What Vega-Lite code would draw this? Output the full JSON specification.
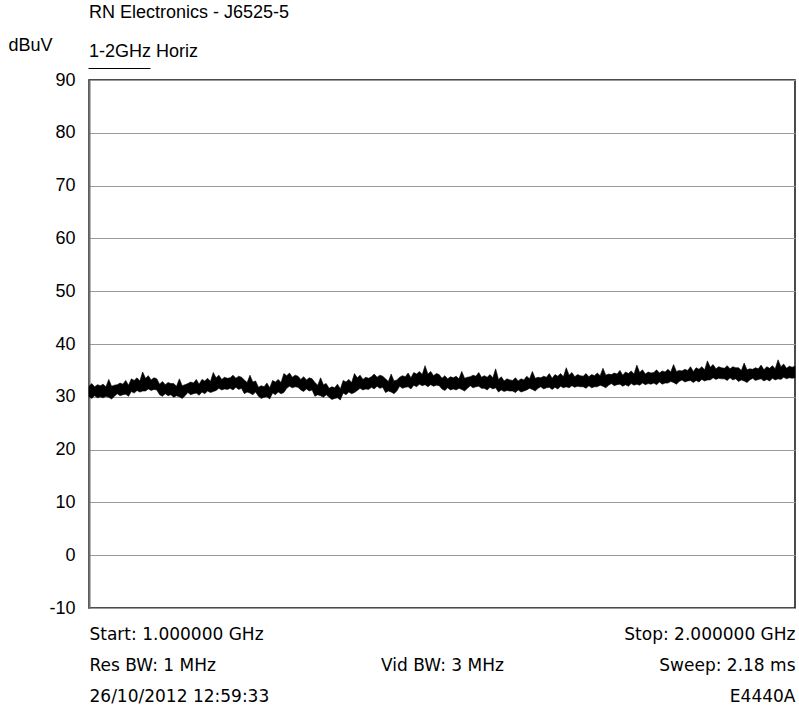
{
  "$schema": "https://vega.github.io/schema/vega-lite/v6.json",
  "width": 706,
  "height": 528,
  "autosize": "none",
  "padding": {"left": 89, "top": 80, "right": 4, "bottom": 105},
  "background": "white",
  "config": {
    "font": "Liberation Sans",
    "view": {"stroke": "#111111", "strokeWidth": 1.5}
  },
  "title": {
    "text": "RN Electronics - J6525-5",
    "subtitle": "1-2GHz Horiz",
    "anchor": "start",
    "frame": "group",
    "fontSize": 18,
    "fontWeight": "normal",
    "subtitleFontSize": 18,
    "color": "black",
    "subtitleColor": "black",
    "offset": -25,
    "subtitlePadding": 21
  },
  "layer": [
    {
      "data": {
        "values": [
          {"f":1000,"lo":30.0,"hi":32.0},{"f":1004,"lo":29.7,"hi":32.5},{"f":1008,"lo":30.2,"hi":31.9},{"f":1012,"lo":29.8,"hi":32.3},{"f":1016,"lo":30.0,"hi":32.1},
          {"f":1020,"lo":29.8,"hi":32.4},{"f":1024,"lo":30.1,"hi":31.9},{"f":1028,"lo":29.9,"hi":33.3},{"f":1032,"lo":29.6,"hi":32.0},{"f":1036,"lo":30.1,"hi":32.2},
          {"f":1040,"lo":30.6,"hi":32.3},{"f":1044,"lo":30.2,"hi":32.6},{"f":1048,"lo":30.4,"hi":32.4},{"f":1052,"lo":30.5,"hi":33.1},{"f":1056,"lo":30.1,"hi":32.2},
          {"f":1060,"lo":31.0,"hi":33.4},{"f":1064,"lo":30.7,"hi":33.1},{"f":1068,"lo":31.2,"hi":33.6},{"f":1072,"lo":30.9,"hi":33.0},{"f":1076,"lo":31.1,"hi":34.7},
          {"f":1080,"lo":31.1,"hi":33.5},{"f":1084,"lo":31.5,"hi":34.0},{"f":1088,"lo":31.2,"hi":33.2},{"f":1092,"lo":31.4,"hi":33.6},{"f":1096,"lo":31.3,"hi":33.4},
          {"f":1100,"lo":30.4,"hi":32.4},{"f":1104,"lo":30.1,"hi":32.9},{"f":1108,"lo":30.6,"hi":32.3},{"f":1112,"lo":30.2,"hi":32.7},{"f":1116,"lo":30.4,"hi":32.5},
          {"f":1120,"lo":29.9,"hi":32.5},{"f":1124,"lo":30.2,"hi":32.0},{"f":1128,"lo":30.0,"hi":33.4},{"f":1132,"lo":29.7,"hi":32.1},{"f":1136,"lo":30.2,"hi":32.3},
          {"f":1140,"lo":30.8,"hi":32.5},{"f":1144,"lo":30.4,"hi":32.8},{"f":1148,"lo":30.6,"hi":32.6},{"f":1152,"lo":30.7,"hi":33.3},{"f":1156,"lo":30.3,"hi":32.4},
          {"f":1160,"lo":30.9,"hi":33.3},{"f":1164,"lo":30.6,"hi":33.0},{"f":1168,"lo":31.1,"hi":33.5},{"f":1172,"lo":30.8,"hi":32.9},{"f":1176,"lo":31.0,"hi":34.6},
          {"f":1180,"lo":31.2,"hi":33.6},{"f":1184,"lo":31.6,"hi":34.1},{"f":1188,"lo":31.3,"hi":33.3},{"f":1192,"lo":31.5,"hi":33.7},{"f":1196,"lo":31.4,"hi":33.5},
          {"f":1200,"lo":31.6,"hi":33.6},{"f":1204,"lo":31.3,"hi":34.1},{"f":1208,"lo":31.8,"hi":33.5},{"f":1212,"lo":31.4,"hi":33.9},{"f":1216,"lo":31.6,"hi":33.7},
          {"f":1220,"lo":30.6,"hi":33.2},{"f":1224,"lo":30.9,"hi":32.7},{"f":1228,"lo":30.7,"hi":34.1},{"f":1232,"lo":30.4,"hi":32.8},{"f":1236,"lo":30.9,"hi":33.0},
          {"f":1240,"lo":30.1,"hi":31.8},{"f":1244,"lo":29.7,"hi":32.1},{"f":1248,"lo":29.9,"hi":31.9},{"f":1252,"lo":30.0,"hi":32.6},{"f":1256,"lo":29.6,"hi":31.7},
          {"f":1260,"lo":30.7,"hi":33.1},{"f":1264,"lo":30.4,"hi":32.8},{"f":1268,"lo":30.9,"hi":33.3},{"f":1272,"lo":30.6,"hi":32.7},{"f":1276,"lo":30.8,"hi":34.4},
          {"f":1280,"lo":31.6,"hi":34.0},{"f":1284,"lo":32.0,"hi":34.5},{"f":1288,"lo":31.7,"hi":33.7},{"f":1292,"lo":31.9,"hi":34.1},{"f":1296,"lo":31.8,"hi":33.9},
          {"f":1300,"lo":31.3,"hi":33.3},{"f":1304,"lo":31.0,"hi":33.8},{"f":1308,"lo":31.5,"hi":33.2},{"f":1312,"lo":31.1,"hi":33.6},{"f":1316,"lo":31.3,"hi":33.4},
          {"f":1320,"lo":30.1,"hi":32.7},{"f":1324,"lo":30.4,"hi":32.2},{"f":1328,"lo":30.2,"hi":33.6},{"f":1332,"lo":29.9,"hi":32.3},{"f":1336,"lo":30.4,"hi":32.5},
          {"f":1340,"lo":29.9,"hi":31.6},{"f":1344,"lo":29.5,"hi":31.9},{"f":1348,"lo":29.7,"hi":31.7},{"f":1352,"lo":29.8,"hi":32.4},{"f":1356,"lo":29.4,"hi":31.5},
          {"f":1360,"lo":30.7,"hi":33.1},{"f":1364,"lo":30.4,"hi":32.8},{"f":1368,"lo":30.9,"hi":33.3},{"f":1372,"lo":30.6,"hi":32.7},{"f":1376,"lo":30.8,"hi":34.4},
          {"f":1380,"lo":31.2,"hi":33.6},{"f":1384,"lo":31.6,"hi":34.1},{"f":1388,"lo":31.3,"hi":33.3},{"f":1392,"lo":31.5,"hi":33.7},{"f":1396,"lo":31.4,"hi":33.5},
          {"f":1400,"lo":31.8,"hi":33.8},{"f":1404,"lo":31.5,"hi":34.3},{"f":1408,"lo":32.0,"hi":33.7},{"f":1412,"lo":31.6,"hi":34.1},{"f":1416,"lo":31.8,"hi":33.9},
          {"f":1420,"lo":30.8,"hi":33.4},{"f":1424,"lo":31.1,"hi":32.9},{"f":1428,"lo":30.9,"hi":34.3},{"f":1432,"lo":30.6,"hi":33.0},{"f":1436,"lo":31.1,"hi":33.2},
          {"f":1440,"lo":32.0,"hi":33.7},{"f":1444,"lo":31.6,"hi":34.0},{"f":1448,"lo":31.8,"hi":33.8},{"f":1452,"lo":31.9,"hi":34.5},{"f":1456,"lo":31.5,"hi":33.6},
          {"f":1460,"lo":32.2,"hi":34.6},{"f":1464,"lo":31.9,"hi":34.3},{"f":1468,"lo":32.4,"hi":34.8},{"f":1472,"lo":32.1,"hi":34.2},{"f":1476,"lo":32.3,"hi":35.9},
          {"f":1480,"lo":31.9,"hi":34.3},{"f":1484,"lo":32.3,"hi":34.8},{"f":1488,"lo":32.0,"hi":34.0},{"f":1492,"lo":32.2,"hi":34.4},{"f":1496,"lo":32.1,"hi":34.2},
          {"f":1500,"lo":31.5,"hi":33.5},{"f":1504,"lo":31.2,"hi":34.0},{"f":1508,"lo":31.7,"hi":33.4},{"f":1512,"lo":31.3,"hi":33.8},{"f":1516,"lo":31.5,"hi":33.6},
          {"f":1520,"lo":31.3,"hi":33.9},{"f":1524,"lo":31.6,"hi":33.4},{"f":1528,"lo":31.4,"hi":34.8},{"f":1532,"lo":31.1,"hi":33.5},{"f":1536,"lo":31.6,"hi":33.7},
          {"f":1540,"lo":32.1,"hi":33.8},{"f":1544,"lo":31.7,"hi":34.1},{"f":1548,"lo":31.9,"hi":33.9},{"f":1552,"lo":32.0,"hi":34.6},{"f":1556,"lo":31.6,"hi":33.7},
          {"f":1560,"lo":31.6,"hi":34.0},{"f":1564,"lo":31.3,"hi":33.7},{"f":1568,"lo":31.8,"hi":34.2},{"f":1572,"lo":31.5,"hi":33.6},{"f":1576,"lo":31.7,"hi":35.3},
          {"f":1580,"lo":30.9,"hi":33.3},{"f":1584,"lo":31.3,"hi":33.8},{"f":1588,"lo":31.0,"hi":33.0},{"f":1592,"lo":31.2,"hi":33.4},{"f":1596,"lo":31.1,"hi":33.2},
          {"f":1600,"lo":31.1,"hi":33.1},{"f":1604,"lo":30.8,"hi":33.6},{"f":1608,"lo":31.3,"hi":33.0},{"f":1612,"lo":30.9,"hi":33.4},{"f":1616,"lo":31.1,"hi":33.2},
          {"f":1620,"lo":31.3,"hi":33.9},{"f":1624,"lo":31.6,"hi":33.4},{"f":1628,"lo":31.4,"hi":34.8},{"f":1632,"lo":31.1,"hi":33.5},{"f":1636,"lo":31.6,"hi":33.7},
          {"f":1640,"lo":31.9,"hi":33.6},{"f":1644,"lo":31.5,"hi":33.9},{"f":1648,"lo":31.7,"hi":33.7},{"f":1652,"lo":31.8,"hi":34.4},{"f":1656,"lo":31.4,"hi":33.5},
          {"f":1660,"lo":31.8,"hi":34.2},{"f":1664,"lo":31.5,"hi":33.9},{"f":1668,"lo":32.0,"hi":34.4},{"f":1672,"lo":31.7,"hi":33.8},{"f":1676,"lo":31.9,"hi":35.5},
          {"f":1680,"lo":31.7,"hi":34.1},{"f":1684,"lo":32.1,"hi":34.6},{"f":1688,"lo":31.8,"hi":33.8},{"f":1692,"lo":32.0,"hi":34.2},{"f":1696,"lo":31.9,"hi":34.0},
          {"f":1700,"lo":31.9,"hi":33.9},{"f":1704,"lo":31.6,"hi":34.4},{"f":1708,"lo":32.1,"hi":33.8},{"f":1712,"lo":31.7,"hi":34.2},{"f":1716,"lo":31.9,"hi":34.0},
          {"f":1720,"lo":31.9,"hi":34.5},{"f":1724,"lo":32.2,"hi":34.0},{"f":1728,"lo":32.0,"hi":35.4},{"f":1732,"lo":31.7,"hi":34.1},{"f":1736,"lo":32.2,"hi":34.3},
          {"f":1740,"lo":32.5,"hi":34.2},{"f":1744,"lo":32.1,"hi":34.5},{"f":1748,"lo":32.3,"hi":34.3},{"f":1752,"lo":32.4,"hi":35.0},{"f":1756,"lo":32.0,"hi":34.1},
          {"f":1760,"lo":32.3,"hi":34.7},{"f":1764,"lo":32.0,"hi":34.4},{"f":1768,"lo":32.5,"hi":34.9},{"f":1772,"lo":32.2,"hi":34.3},{"f":1776,"lo":32.4,"hi":36.0},
          {"f":1780,"lo":32.2,"hi":34.6},{"f":1784,"lo":32.6,"hi":35.1},{"f":1788,"lo":32.3,"hi":34.3},{"f":1792,"lo":32.5,"hi":34.7},{"f":1796,"lo":32.4,"hi":34.5},
          {"f":1800,"lo":32.6,"hi":34.6},{"f":1804,"lo":32.3,"hi":35.1},{"f":1808,"lo":32.8,"hi":34.5},{"f":1812,"lo":32.4,"hi":34.9},{"f":1816,"lo":32.6,"hi":34.7},
          {"f":1820,"lo":32.6,"hi":35.2},{"f":1824,"lo":32.9,"hi":34.7},{"f":1828,"lo":32.7,"hi":36.1},{"f":1832,"lo":32.4,"hi":34.8},{"f":1836,"lo":32.9,"hi":35.0},
          {"f":1840,"lo":33.2,"hi":34.9},{"f":1844,"lo":32.8,"hi":35.2},{"f":1848,"lo":33.0,"hi":35.0},{"f":1852,"lo":33.1,"hi":35.7},{"f":1856,"lo":32.7,"hi":34.8},
          {"f":1860,"lo":33.1,"hi":35.5},{"f":1864,"lo":32.8,"hi":35.2},{"f":1868,"lo":33.3,"hi":35.7},{"f":1872,"lo":33.0,"hi":35.1},{"f":1876,"lo":33.2,"hi":36.8},
          {"f":1880,"lo":33.2,"hi":35.6},{"f":1884,"lo":33.6,"hi":36.1},{"f":1888,"lo":33.3,"hi":35.3},{"f":1892,"lo":33.5,"hi":35.7},{"f":1896,"lo":33.4,"hi":35.5},
          {"f":1900,"lo":33.4,"hi":35.4},{"f":1904,"lo":33.1,"hi":35.9},{"f":1908,"lo":33.6,"hi":35.3},{"f":1912,"lo":33.2,"hi":35.7},{"f":1916,"lo":33.4,"hi":35.5},
          {"f":1920,"lo":32.9,"hi":35.5},{"f":1924,"lo":33.2,"hi":35.0},{"f":1928,"lo":33.0,"hi":36.4},{"f":1932,"lo":32.7,"hi":35.1},{"f":1936,"lo":33.2,"hi":35.3},
          {"f":1940,"lo":33.5,"hi":35.2},{"f":1944,"lo":33.1,"hi":35.5},{"f":1948,"lo":33.3,"hi":35.3},{"f":1952,"lo":33.4,"hi":36.0},{"f":1956,"lo":33.0,"hi":35.1},
          {"f":1960,"lo":33.3,"hi":35.7},{"f":1964,"lo":33.0,"hi":35.4},{"f":1968,"lo":33.5,"hi":35.9},{"f":1972,"lo":33.2,"hi":35.3},{"f":1976,"lo":33.4,"hi":37.0},
          {"f":1980,"lo":33.3,"hi":35.7},{"f":1984,"lo":33.7,"hi":36.2},{"f":1988,"lo":33.4,"hi":35.4},{"f":1992,"lo":33.6,"hi":35.8},{"f":1996,"lo":33.5,"hi":35.6},
          {"f":2000,"lo":33.6,"hi":35.8}
        ]
      },
      "mark": {"type": "area", "opacity": 1, "stroke": "black", "strokeWidth": 0.6},
      "encoding": {
        "color": {
          "datum": "trace",
          "scale": {"range": ["black"]},
          "legend": {
            "orient": "none",
            "legendX": -1,
            "legendY": -43,
            "padding": 0,
            "symbolType": "stroke",
            "symbolSize": 3844,
            "symbolStrokeColor": "black",
            "symbolStrokeWidth": 1,
            "symbolOpacity": 1,
            "labelExpr": "''",
            "labelOffset": 0,
            "title": null
          }
        },
        "x": {
          "field": "f",
          "type": "quantitative",
          "scale": {"domain": [1000, 2000], "nice": false, "zero": false},
          "axis": {
            "values": [1000, 1500, 2000],
            "title": null,
            "grid": false,
            "ticks": false,
            "domain": false,
            "labelFont": "DejaVu Sans",
            "labelFontSize": 17,
            "labelColor": "black",
            "labelPadding": 18,
            "labelLineHeight": 31,
            "labelBaseline": "top",
            "labelOverlap": false,
            "labelBound": false,
            "labelFlush": false,
            "labelExpr": "datum.value == 1000 ? ['Start: 1.000000 GHz', 'Res BW: 1 MHz', '26/10/2012 12:59:33'] : datum.value == 2000 ? ['Stop: 2.000000 GHz', 'Sweep: 2.18 ms', 'E4440A'] : ['', 'Vid BW: 3 MHz']",
            "labelAlign": {
              "condition": [
                {"test": "datum.value == 1000", "value": "left"},
                {"test": "datum.value == 2000", "value": "right"}
              ],
              "value": "center"
            }
          }
        },
        "y": {
          "field": "lo",
          "type": "quantitative",
          "scale": {"domain": [-10, 90], "nice": false, "zero": false},
          "axis": {
            "values": [-10, 0, 10, 20, 30, 40, 50, 60, 70, 80, 90],
            "labelExpr": "'' + datum.value",
            "title": "dBuV",
            "titleAngle": 0,
            "titleAlign": "left",
            "titleBaseline": "alphabetic",
            "titleX": -81,
            "titleY": -30,
            "titleFontSize": 18,
            "titleFontWeight": "normal",
            "titleColor": "black",
            "ticks": false,
            "labelFontSize": 18,
            "labelColor": "black",
            "labelPadding": 14,
            "grid": true,
            "gridColor": "#9a9a9a",
            "gridWidth": 1,
            "domainColor": "#707070",
            "domainWidth": 2
          }
        },
        "y2": {"field": "hi"}
      }
    },
    {
      "mark": {"type": "rule", "color": "#3ee83e", "strokeWidth": 1.5},
      "encoding": {"y": {"datum": 54}}
    }
  ]
}
